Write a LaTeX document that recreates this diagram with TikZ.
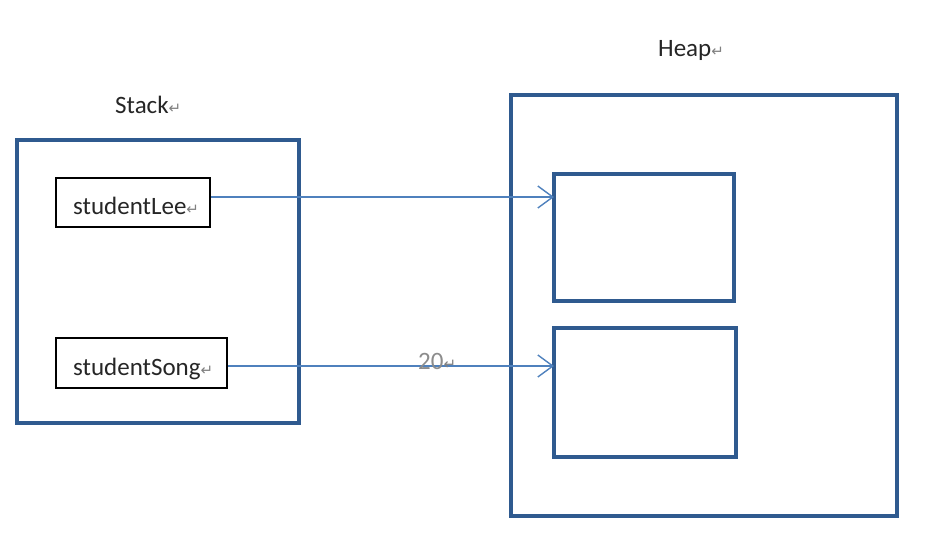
\documentclass[tikz,border=0pt]{standalone}
\usepackage{fontspec}
\setmainfont{Carlito}
\newfontfamily\symfont{DejaVu Sans}
\usetikzlibrary{arrows.meta}
\definecolor{boxblue}{HTML}{2F5A8F}
\definecolor{arrowblue}{HTML}{4F81BD}
\definecolor{txt}{HTML}{262626}
\newcommand{\retmark}{{\symfont\fontsize{15}{15}\selectfont\color{gray}↵}}
\begin{document}
\begin{tikzpicture}[x=1pt,y=-1pt,
  bigbox/.style={draw=boxblue,line width=4pt,inner sep=0pt,outer sep=0pt},
  varbox/.style={draw=black,line width=1.3pt,inner sep=0pt,outer sep=0pt},
  lbl/.style={font=\fontsize{25}{25}\selectfont,text=txt,inner sep=0pt,anchor=base west},
  ref/.style={draw=arrowblue,line width=1.4pt,-{Straight Barb[length=15pt,width=22pt,line width=1.4pt]}}]
\useasboundingbox (0,0) rectangle (931,555);
% stack
\node[bigbox,minimum width=282pt,minimum height=283pt] (stackbox) at (158,281.5) {};
\node[lbl] (stacklbl) at (115,113) {Stack\retmark};
% heap
\node[bigbox,minimum width=386pt,minimum height=421pt] (heapbox) at (704,305.5) {};
\node[lbl] (heaplbl) at (658,56) {Heap\retmark};
% objects
\node[bigbox,minimum width=180pt,minimum height=127pt] (obj1) at (644,237.5) {};
\node[bigbox,minimum width=182pt,minimum height=129pt] (obj2) at (645,392.5) {};
% variables
\node[varbox,minimum width=154pt,minimum height=49pt] (leebox) at (133,202.5) {};
\node[lbl] (leelbl) at (73,214) {studentLee\retmark};
\node[varbox,minimum width=171pt,minimum height=50pt] (songbox) at (141.5,363) {};
\node[lbl] (songlbl) at (73,375) {studentSong\retmark};
% references
\coordinate (lee) at ([xshift=1pt,yshift=5.5pt]leebox.east);
\coordinate (song) at ([xshift=1pt,yshift=-3pt]songbox.east);
\draw[ref] (lee) -- (lee -| obj1.west);
\draw[ref] (song) -- (song -| obj2.west);
\node[lbl,text=gray!90] (twenty) at (418,369) {20\retmark};
\end{tikzpicture}
\end{document}
